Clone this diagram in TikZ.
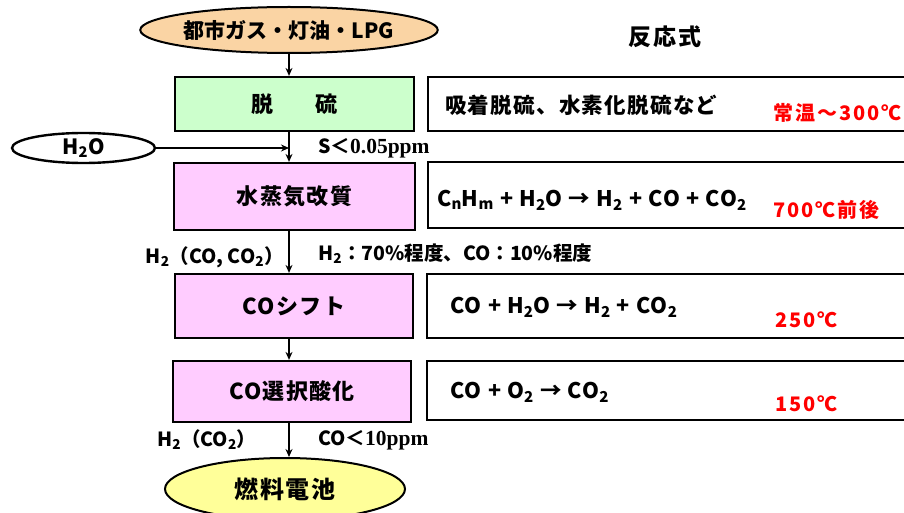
\documentclass[tikz,border=0pt]{standalone}
\usepackage{fontspec}
\usetikzlibrary{arrows.meta,shapes.geometric}
\setmainfont{Noto Sans CJK JP}
\newfontfamily\tnr{Liberation Serif}
\newfontfamily\wide{Noto Sans CJK JP}[LetterSpace=6]
\newfontfamily\wider{Noto Sans CJK JP}[LetterSpace=10]
\newcommand\sbs[1]{\textsubscript{#1}}
\newcommand\ser[1]{{\tnr\fontsize{21.5}{24}\selectfont #1}}
\definecolor{orangefill}{RGB}{250,212,164}
\definecolor{greenfill}{RGB}{204,255,204}
\definecolor{pinkfill}{RGB}{255,204,255}
\definecolor{yellowfill}{RGB}{255,255,153}
\tikzset{
  procbox/.style={draw=black,line width=2.2pt,rectangle,inner sep=0pt,font=\wide\bfseries\fontsize{22}{26}\selectfont},
  rbox/.style={draw=black,line width=2.2pt,rectangle,fill=white,inner sep=0pt,minimum width=492pt},
  oval/.style={draw=black,line width=2pt,ellipse,inner sep=0pt},
  arr/.style={line width=1.5pt,-{Stealth[length=8pt,width=7pt]}},
  lbl/.style={inner sep=0pt,font=\bfseries\fontsize{19.5}{22}\selectfont},
  eq/.style={inner sep=0pt,anchor=west,font=\wide\bfseries\fontsize{21.5}{24}\selectfont},
  temp/.style={inner sep=0pt,anchor=west,text=red,font=\wider\bfseries\fontsize{20}{24}\selectfont},
}
\begin{document}
\begin{tikzpicture}[x=1pt,y=-1pt]
\useasboundingbox (0,0) rectangle (904,513);
\clip (0,0) rectangle (904,513);
\fill[white] (0,0) rectangle (904,513);
% main column
\node[oval,fill=orangefill,minimum width=265pt,minimum height=46pt,font=\bfseries\fontsize{21}{24}\selectfont] (src) at (289,30) {都市ガス・灯油・LPG};
\node[procbox,fill=greenfill,minimum width=239pt,minimum height=54pt] (b1) at (294.5,104) {脱\hspace{1.9em}硫};
\node[procbox,fill=pinkfill,minimum width=241pt,minimum height=67pt] (b2) at (294.5,196.5) {水蒸気改質};
\node[procbox,fill=pinkfill,minimum width=238pt,minimum height=64pt] (b3) at (294,306) {COシフト};
\node[procbox,fill=pinkfill,minimum width=238pt,minimum height=61pt] (b4) at (292,391.5) {CO選択酸化};
\node[oval,fill=yellowfill,minimum width=240pt,minimum height=62pt,font=\wide\bfseries\fontsize{24}{28}\selectfont] (fc) at (285,489) {燃料電池};
\node[oval,fill=white,line width=2.4pt,minimum width=143pt,minimum height=30pt,font=\bfseries\fontsize{21}{24}\selectfont] (h2o) at (83.5,148) {H\sbs{2}O};
% connectors
\draw[arr] (src.south) -- (src.south |- b1.north);
\draw[arr] (src.south |- b1.south) -- (src.south |- b2.north);
\draw[arr] (h2o.east) -- (h2o.east -| src.south);
\draw[arr] (src.south |- b2.south) -- (src.south |- b3.north);
\draw[arr] (src.south |- b3.south) -- (src.south |- b4.north);
\draw[arr] (src.south |- b4.south) -- (src.south |- fc.north);
% flow labels
\node[lbl,anchor=west] (l1) at (318,148) {S＜\ser{0.05ppm}};
\node[lbl,anchor=east] (l2) at (284,257) {H\sbs{2}（CO, CO\sbs{2}）};
\node[lbl,anchor=west] (l3) at (318,254) {H\sbs{2}：70\%程度、CO：10\%程度};
\node[lbl,anchor=west] (l4) at (157,440) {H\sbs{2}（CO\sbs{2}）};
\node[lbl,anchor=west] (l5) at (318,440) {CO＜\ser{10ppm}};
% reaction column
\node[inner sep=0pt,font=\wider\bfseries\fontsize{23}{26}\selectfont] (hdr) at (665,37) {反応式};
\node[rbox,minimum height=54pt] (r1) at (674,104) {};
\node[rbox,minimum height=66pt] (r2) at (674,195) {};
\node[rbox,minimum height=64pt] (r3) at (673,306) {};
\node[rbox,minimum height=59pt] (r4) at (673,390.5) {};
\node[eq] (e1) at (445,105) {吸着脱硫、水素化脱硫など};
\node[temp] (t1) at (773,113) {常温～300℃};
\node[eq] (e2) at (437,200) {C\sbs{n}H\sbs{m} + H\sbs{2}O → H\sbs{2} + CO + CO\sbs{2}};
\node[temp] (t2) at (773,210) {700℃前後};
\node[eq] (e3) at (450,307) {CO + H\sbs{2}O → H\sbs{2} + CO\sbs{2}};
\node[temp] (t3) at (775,320) {250℃};
\node[eq] (e4) at (450,392) {CO + O\sbs{2} → CO\sbs{2}};
\node[temp] (t4) at (775,404) {150℃};
\end{tikzpicture}
\end{document}
